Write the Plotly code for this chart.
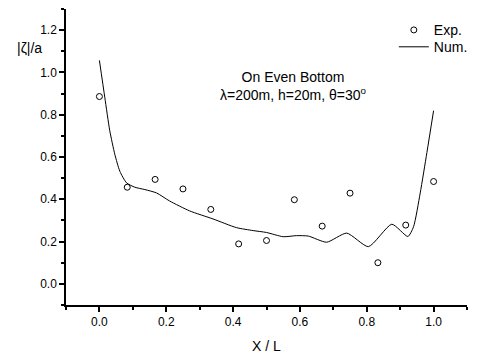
import plotly.graph_objects as go

# Experimental data
exp_x = [0.0, 1/12, 2/12, 3/12, 4/12, 5/12, 6/12, 7/12, 8/12, 9/12, 10/12, 11/12, 1.0]
exp_y = [0.886, 0.457, 0.494, 0.449, 0.352, 0.189, 0.205, 0.398, 0.273, 0.429, 0.100, 0.278, 0.484]

# Numerical curve
num_x = [0.0, 0.016, 0.031, 0.046, 0.061, 0.081, 0.106, 0.136, 0.171, 0.21, 0.27, 0.34, 0.41,
         0.46, 0.50, 0.55, 0.59, 0.625, 0.68, 0.74, 0.805, 0.875, 0.923, 0.94, 0.96, 0.98, 1.0]
num_y = [1.057, 0.883, 0.724, 0.613, 0.533, 0.478, 0.457, 0.446, 0.430, 0.392, 0.345, 0.307, 0.266,
         0.252, 0.243, 0.223, 0.228, 0.226, 0.197, 0.240, 0.176, 0.282, 0.224, 0.27, 0.43, 0.621, 0.819]

FONT = "Liberation Sans, Arial, sans-serif"

fig = go.Figure()
fig.add_trace(go.Scatter(
    x=exp_x, y=exp_y, mode="markers", name="Exp.", legend="legend",
    marker=dict(symbol="circle-open", size=6, color="black", line=dict(width=1, color="black")),
))
fig.add_trace(go.Scatter(
    x=num_x, y=num_y, mode="lines", name="Num.", legend="legend2",
    line=dict(color="black", width=1, shape="spline", smoothing=0.6),
))

leg_common = dict(xanchor="left", yanchor="top", font=dict(size=14, family=FONT),
                  bgcolor="rgba(0,0,0,0)", itemwidth=30)

fig.update_layout(
    width=477, height=354,
    margin=dict(l=66, r=10, t=9, b=49, autoexpand=False),
    paper_bgcolor="white", plot_bgcolor="white",
    font=dict(family=FONT, size=12, color="black"),
    showlegend=True,
    legend=dict(x=0.8175, y=0.982, **leg_common),
    legend2=dict(x=0.8175, y=0.925, **leg_common),
    xaxis=dict(
        range=[-0.1, 1.1], tickvals=[0.0, 0.2, 0.4, 0.6, 0.8, 1.0],
        ticktext=["0.0", "0.2", "0.4", "0.6", "0.8", "1.0"],
        showline=True, linecolor="black", linewidth=1.5, mirror=False,
        ticks="outside", ticklen=5, tickwidth=1.5, tickcolor="black",
        minor=dict(tickvals=[-0.1, 0.1, 0.3, 0.5, 0.7, 0.9, 1.1], ticks="outside",
                   ticklen=3, tickwidth=1.5, tickcolor="black"),
        showgrid=False, zeroline=False, automargin=False,
        title=dict(text="X / L", font=dict(size=14, family=FONT), standoff=14),
        tickfont=dict(size=12, family=FONT),
    ),
    yaxis=dict(
        range=[-0.1, 1.3], tickvals=[0.0, 0.2, 0.4, 0.6, 0.8, 1.0, 1.2],
        ticktext=["0.0", "0.2", "0.4", "0.6", "0.8", "1.0", "1.2"],
        showline=True, linecolor="black", linewidth=1.5, mirror=False,
        ticks="outside", ticklen=5, tickwidth=1.5, tickcolor="black",
        minor=dict(tickvals=[-0.1, 0.1, 0.3, 0.5, 0.7, 0.9, 1.1, 1.3], ticks="outside",
                   ticklen=3, tickwidth=1.5, tickcolor="black"),
        showgrid=False, zeroline=False, automargin=False,
        tickfont=dict(size=12, family=FONT),
    ),
    annotations=[
        dict(text="|ζ|/a", xref="paper", yref="paper", x=-0.092, y=0.869,
             xanchor="center", yanchor="middle", showarrow=False,
             font=dict(size=14, family=FONT)),
        dict(text="On Even Bottom<br>λ=200m, h=20m, θ=30<sup>o</sup>", xref="x", yref="y",
             x=0.582, y=0.938, xanchor="center", yanchor="middle", showarrow=False,
             font=dict(size=14, family=FONT)),
    ],
)

fig.write_html("out.html")
